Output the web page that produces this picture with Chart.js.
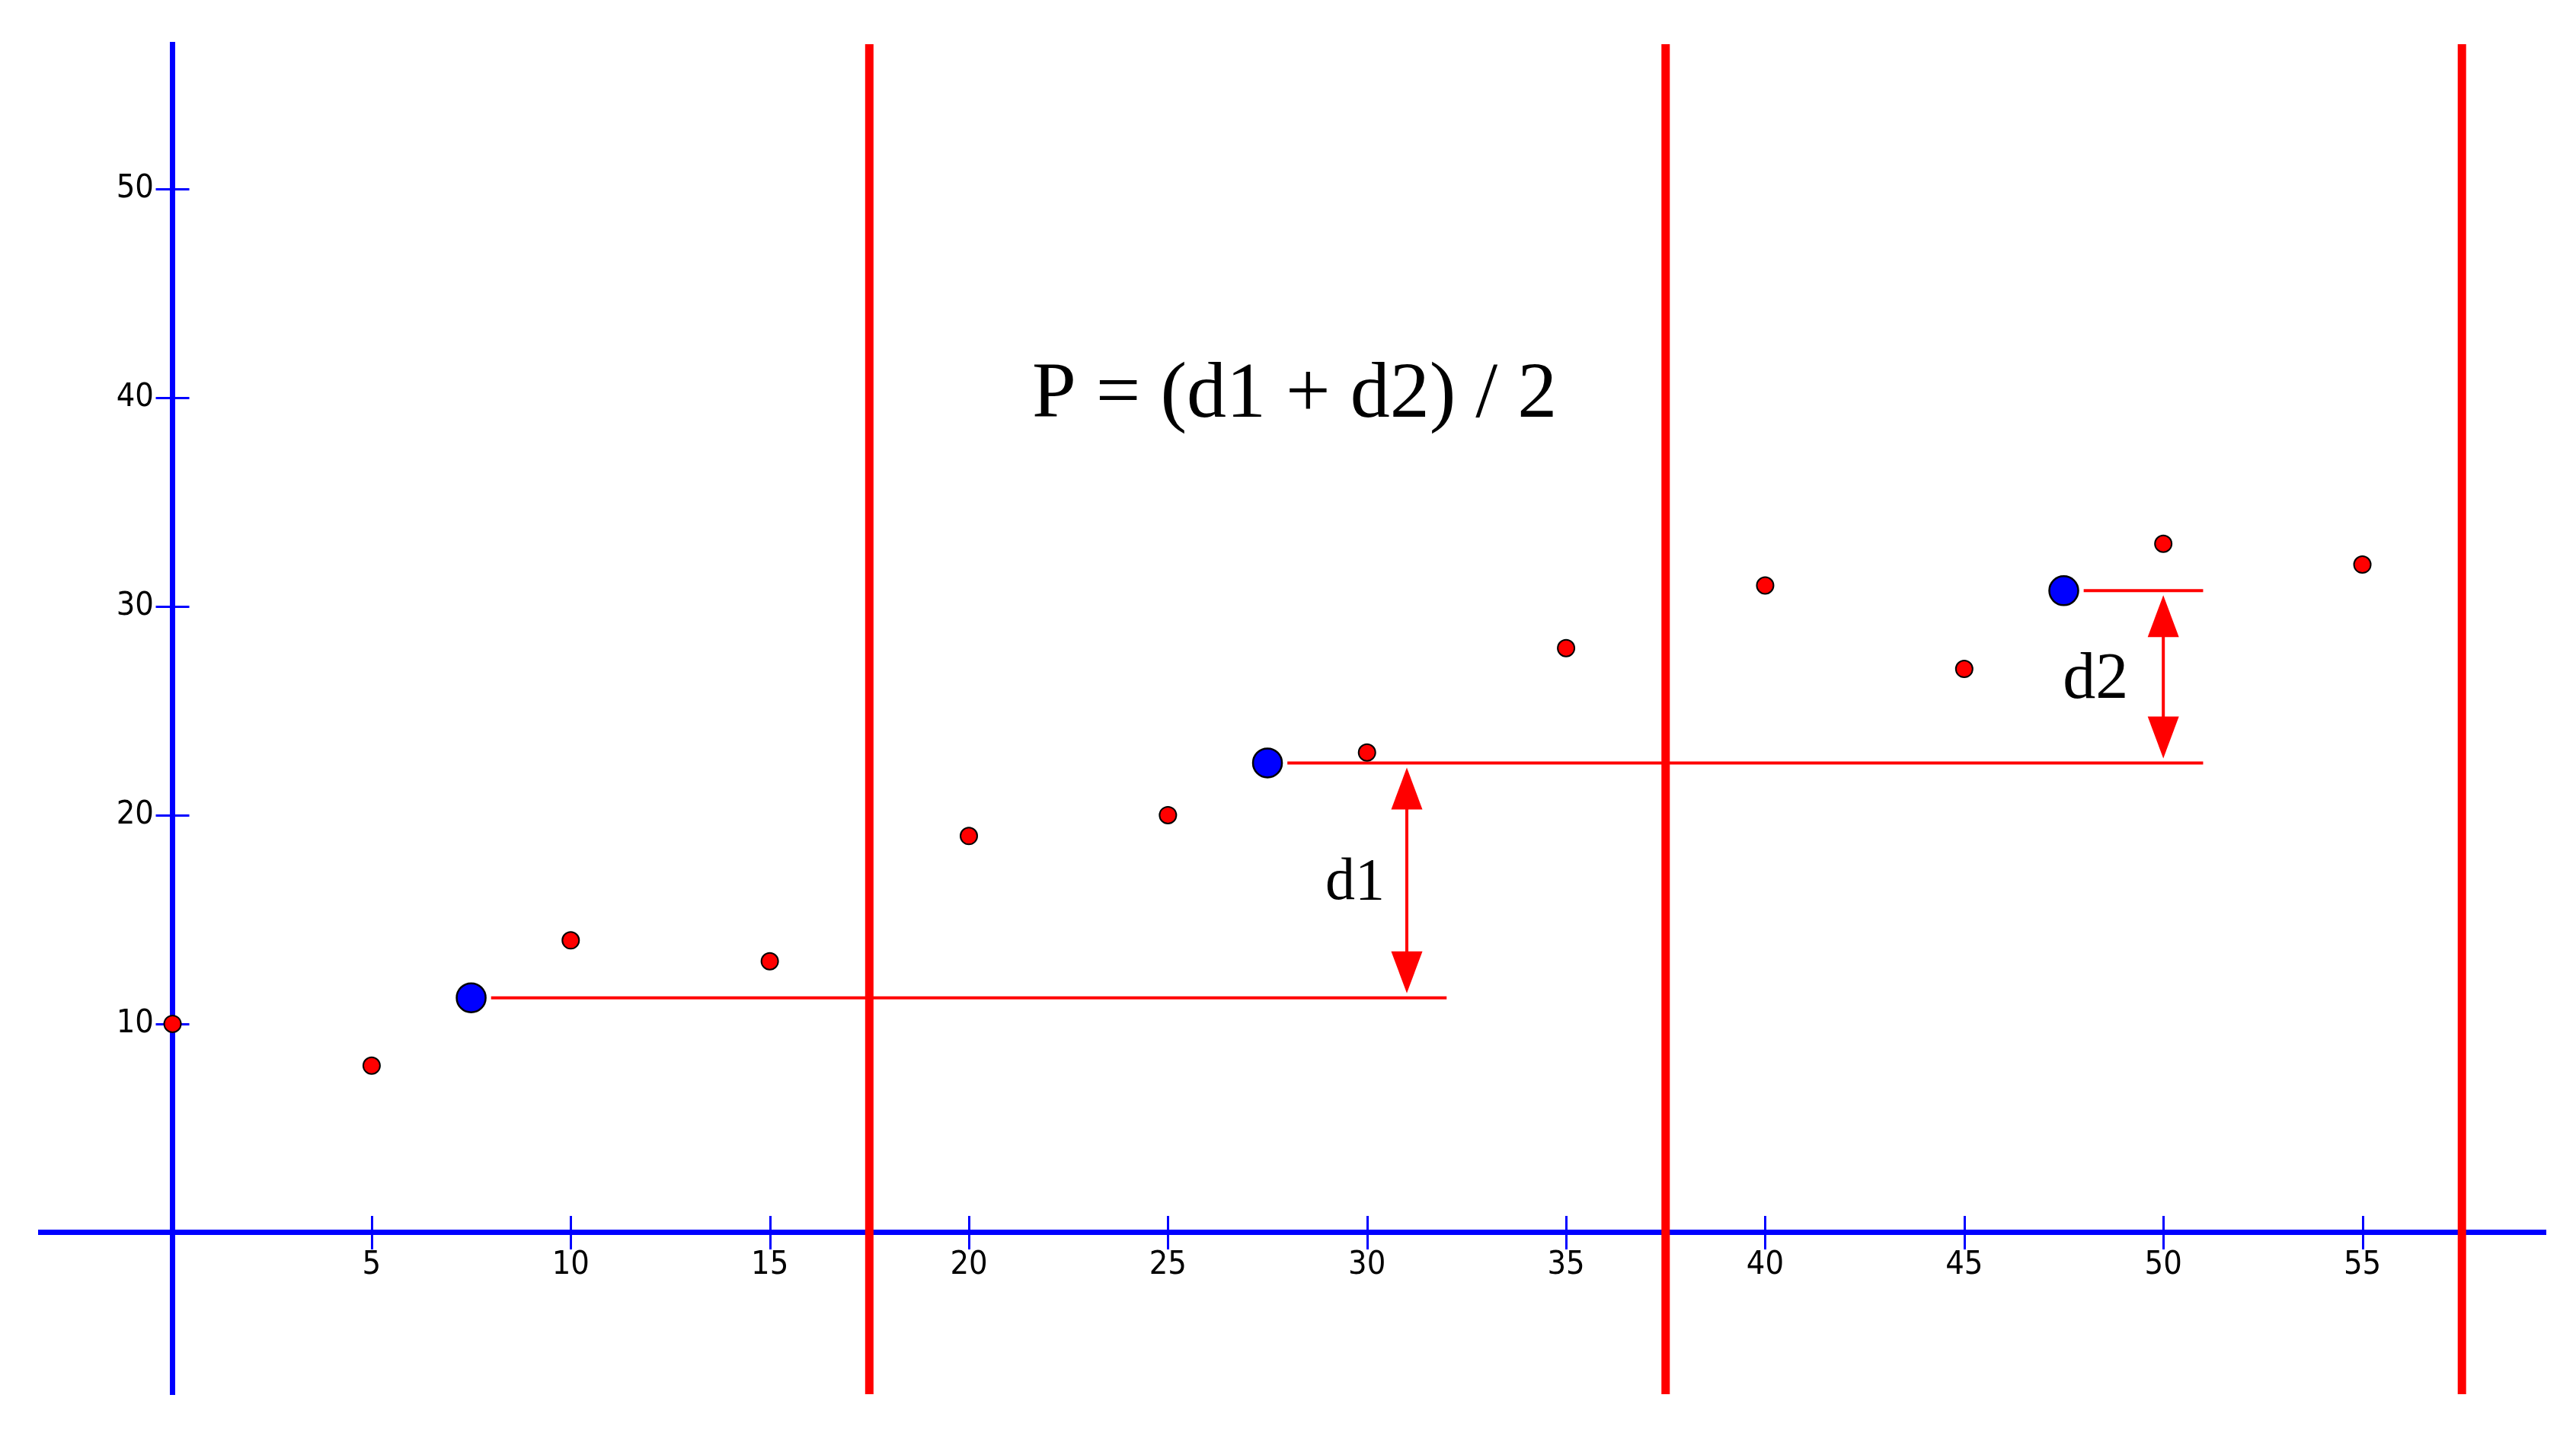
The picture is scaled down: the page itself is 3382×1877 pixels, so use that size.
<!DOCTYPE html>
<html>
<head>
<meta charset="utf-8">
<script src="https://cdn.jsdelivr.net/npm/chart.js@4.4.1/dist/chart.umd.min.js"></script>
<style>
  html, body { margin: 0; padding: 0; background: #fff; }
  canvas { display: block; }
</style>
</head>
<body>
<canvas id="chart" width="3382" height="1877"></canvas>
<script>
// sample points
const xValues = [0, 5, 10, 15, 20, 25, 30, 35, 40, 45, 50, 55];
const yValues = [10, 8, 14, 13, 19, 20, 23, 28, 31, 27, 33, 32];

// group means (blue)
const meanX = [7.5, 27.5, 47.5];
const meanY = [11.25, 22.5, 30.75];

// horizontal level lines through the means
const levelStart = [8, 28, 48];
const levelEnd = [32, 51, 51];

// group boundaries
const dividerX = [17.5, 37.5, 57.5];

// distance arrows
const arrowX = [31, 50];
const arrowFrom = [11.25, 22.5];
const arrowTo = [22.5, 30.75];

// annotations
const noteText = ['P = (d1 + d2) / 2', 'd1', 'd2'];
const noteX = [28.18, 29.7, 48.3];
const noteY = [39.1, 16.0, 25.6];

const xTicks = [5, 10, 15, 20, 25, 30, 35, 40, 45, 50, 55];
const yTicks = [10, 20, 30, 40, 50];

const xMin = -3.32, xMax = 59.6;
const yMin = -7.74, yMax = 56.93;

const RED = '#ff0000';
const BLUE = '#0000ff';

const datasets = [
    {
        label: 'points',
        data: xValues.map((x, i) => ({ x: x, y: yValues[i] })),
        pointRadius: 11,
        pointBackgroundColor: RED,
        pointBorderColor: '#000',
        pointBorderWidth: 2,
        showLine: false
    },
    {
        label: 'means',
        data: meanX.map((x, i) => ({ x: x, y: meanY[i] })),
        pointRadius: 19,
        pointBackgroundColor: BLUE,
        pointBorderColor: '#000',
        pointBorderWidth: 2.5,
        showLine: false
    }
];
meanY.forEach((y, i) => {
    datasets.push({
        label: 'level' + i,
        data: [{ x: levelStart[i], y: y }, { x: levelEnd[i], y: y }],
        showLine: true,
        borderColor: RED,
        borderWidth: 4,
        pointRadius: 0
    });
});
dividerX.forEach((x, i) => {
    datasets.push({
        label: 'divider' + i,
        data: [{ x: x, y: yMin }, { x: x, y: yMax }],
        showLine: true,
        borderColor: RED,
        borderWidth: 11,
        pointRadius: 0
    });
});

// tick marks crossing the axes
const crossTicks = {
    id: 'crossTicks',
    beforeDatasetsDraw(chart) {
        const { ctx, scales: { x, y } } = chart;
        const x0 = x.getPixelForValue(0);
        const y0 = y.getPixelForValue(0);
        ctx.save();
        ctx.strokeStyle = BLUE;
        ctx.lineWidth = 3;
        ctx.beginPath();
        xTicks.forEach(v => {
            const px = Math.round(x.getPixelForValue(v)) + 0.5;
            ctx.moveTo(px, y0 - 22);
            ctx.lineTo(px, y0 + 22);
        });
        yTicks.forEach(v => {
            const py = Math.round(y.getPixelForValue(v)) + 0.5;
            ctx.moveTo(x0 - 22, py);
            ctx.lineTo(x0 + 22, py);
        });
        ctx.stroke();
        ctx.restore();
    }
};

// double headed arrows and text
const annotations = {
    id: 'annotations',
    afterDatasetsDraw(chart) {
        const { ctx, scales: { x, y } } = chart;
        ctx.save();
        ctx.fillStyle = RED;
        ctx.strokeStyle = RED;
        arrowX.forEach((v, i) => {
            const px = x.getPixelForValue(v);
            const top = y.getPixelForValue(arrowTo[i]) + 6;
            const bot = y.getPixelForValue(arrowFrom[i]) - 6;
            ctx.lineWidth = 4;
            ctx.beginPath();
            ctx.moveTo(px, top + 20);
            ctx.lineTo(px, bot - 20);
            ctx.stroke();
            ctx.beginPath();
            ctx.moveTo(px, top);
            ctx.lineTo(px - 20.5, top + 55);
            ctx.lineTo(px + 20.5, top + 55);
            ctx.closePath();
            ctx.fill();
            ctx.beginPath();
            ctx.moveTo(px, bot);
            ctx.lineTo(px - 20.5, bot - 55);
            ctx.lineTo(px + 20.5, bot - 55);
            ctx.closePath();
            ctx.fill();
        });

        const sizes = [104, 78, 86];
        ctx.fillStyle = '#000';
        ctx.textAlign = 'center';
        ctx.textBaseline = 'alphabetic';
        noteText.forEach((t, i) => {
            ctx.font = sizes[i] + 'px "Liberation Serif", "Times New Roman", serif';
            ctx.fillText(t, x.getPixelForValue(noteX[i]), y.getPixelForValue(noteY[i]));
        });
        ctx.restore();
    }
};

const tickFont = { family: '"DejaVu Sans Condensed", "Liberation Sans", sans-serif', size: 43 };

new Chart(document.getElementById('chart'), {
    type: 'scatter',
    data: { datasets: datasets },
    options: {
        responsive: false,
        animation: false,
        events: [],
        layout: { padding: { left: 53, top: 58, right: 40, bottom: 47 } },
        plugins: { legend: { display: false }, tooltip: { enabled: false } },
        scales: {
            x: {
                type: 'linear',
                min: xMin,
                max: xMax,
                position: { y: 0 },
                afterBuildTicks: scale => { scale.ticks = xTicks.map(v => ({ value: v })); },
                grid: { display: true, drawOnChartArea: false, drawTicks: false },
                border: { display: true, color: BLUE, width: 7 },
                ticks: { color: '#000', font: tickFont, padding: 17, maxRotation: 0, autoSkip: false, callback: v => String(v) }
            },
            y: {
                type: 'linear',
                min: yMin,
                max: yMax,
                position: { x: 0 },
                afterBuildTicks: scale => { scale.ticks = yTicks.map(v => ({ value: v })); },
                grid: { display: true, drawOnChartArea: false, drawTicks: false },
                border: { display: true, color: BLUE, width: 7 },
                // labels sit right-aligned on the axis line, trailing spaces keep them clear of it
                ticks: { color: '#000', font: tickFont, padding: 0, autoSkip: false, callback: v => v + '  ' }
            }
        }
    },
    plugins: [crossTicks, annotations]
});
</script>
</body>
</html>
